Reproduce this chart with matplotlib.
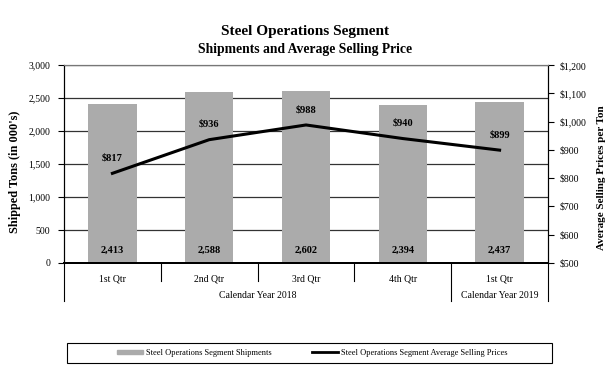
import matplotlib.pyplot as plt
from matplotlib.patches import Rectangle
from matplotlib.ticker import FuncFormatter

# --- datos ---
quarters = ['1st Qtr', '2nd Qtr', '3rd Qtr', '4th Qtr', '1st Qtr']
years = ['Calendar Year 2018', 'Calendar Year 2019']
year_span = [(-0.5, 3.5), (3.5, 4.5)]
shipments = [2413, 2588, 2602, 2394, 2437]
prices = [817, 936, 988, 940, 899]

plt.rcParams['font.family'] = 'Liberation Serif'
bar_color = '#ababab'

fig = plt.figure(figsize=(6.11, 3.74), dpi=100)
ax = fig.add_axes([64/611, 1 - 263/374, (548 - 64)/611, (263 - 65)/374])
ax2 = ax.twinx()

x = list(range(len(quarters)))
ax.bar(x, shipments, width=0.5, color=bar_color, zorder=2)
ax.set_xlim(-0.5, 4.5)
ax.set_ylim(0, 3000)
ax.set_yticks(range(0, 3001, 500))
ax.yaxis.set_major_formatter(FuncFormatter(lambda v, p: f'{int(v):,}'))
ax.grid(axis='y', color='#333333', linewidth=0.9, zorder=0)
ax.set_axisbelow(True)

# etiquetas de embarques
for xi, s in zip(x, shipments):
    ax.annotate(f'{s:,}', (xi, 0), xytext=(0, 9), textcoords='offset points',
                ha='center', va='center', fontsize=7.5, fontweight='bold')

# línea de precios
ax2.plot(x, prices, color='black', linewidth=2.2, zorder=3)
ax2.set_ylim(500, 1200)
ax2.set_yticks(range(500, 1201, 100))
ax2.yaxis.set_major_formatter(FuncFormatter(lambda v, p: f'${int(v):,}'))
for xi, pv in zip(x, prices):
    ax2.annotate(f'${pv}', (xi, pv), xytext=(0, 11), textcoords='offset points',
                 ha='center', va='center', fontsize=7.5, fontweight='bold')

# ejes
for a in (ax, ax2):
    a.spines['top'].set_color('#777777')
    a.spines['left'].set_color('black')
    a.spines['right'].set_color('black')
    a.spines['bottom'].set_linewidth(1.4)
ax.tick_params(axis='y', direction='out', length=4, width=0.8, labelsize=7, pad=6)
ax2.tick_params(axis='y', direction='out', length=4, width=0.8, labelsize=7, pad=4)
ax.set_xticks(x)
ax.set_xticklabels(quarters, fontsize=7)
ax.tick_params(axis='x', length=0, pad=8)

ax.set_ylabel("Shipped Tons (in 000's)", fontsize=8.8, fontweight='bold')
ax.yaxis.set_label_coords(-0.088, 0.46)
ax2.set_ylabel('Average Selling Prices per Ton', fontsize=8, fontweight='bold')
ax2.yaxis.set_label_coords(1.101, 0.43)

# eje de categorías en dos niveles
tr = ax.get_xaxis_transform()
for b in [0.5, 1.5, 2.5]:
    ax.plot([b, b], [0, -0.091], transform=tr, color='black', linewidth=0.8, clip_on=False)
for b in [-0.5, 3.5, 4.5]:
    ax.plot([b, b], [0, -0.192], transform=tr, color='black', linewidth=0.8, clip_on=False)
for label, (a0, a1) in zip(years, year_span):
    ax.text((a0 + a1) / 2, -0.162, label, transform=tr, ha='center', va='center', fontsize=7)

# títulos
fig.text(0.5, 1 - 31/374, 'Steel Operations Segment', ha='center', va='center',
         fontsize=11, fontweight='bold')
fig.text(0.5, 1 - 49/374, 'Shipments and Average Selling Price', ha='center', va='center',
         fontsize=9.8, fontweight='bold')

# leyenda
fig.patches.append(Rectangle((67/611, 1 - 363/374), (552 - 67)/611, 20/374,
                             transform=fig.transFigure, fill=False,
                             edgecolor='black', linewidth=0.8))
h1 = Rectangle((0, 0), 1, 1, color=bar_color)
h2 = plt.Line2D([0], [0], color='black', linewidth=2)
fig.legend([h1, h2], ['Steel Operations Segment Shipments',
                      'Steel Operations Segment Average Selling Prices'],
           loc='center', bbox_to_anchor=(312/611, 1 - 353/374), ncol=2, frameon=False,
           fontsize=6, columnspacing=4.8, handlelength=3.2, handleheight=0.45,
           handletextpad=0.3)

fig.savefig('out.png', dpi=100)
